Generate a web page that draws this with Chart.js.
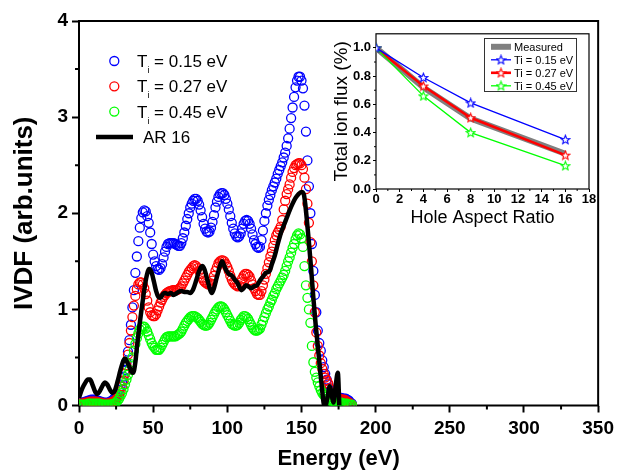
<!DOCTYPE html>
<html>
<head>
<meta charset="utf-8">
<script src="https://cdn.jsdelivr.net/npm/chart.js@4.4.1/dist/chart.umd.min.js"></script>
<style>
  html, body { margin: 0; padding: 0; background: #fff; }
  #wrap { position: relative; width: 619px; height: 472px; }
  #main { position: absolute; left: 0; top: 0; }
  #inset { position: absolute; left: 318px; top: 24px; }
</style>
</head>
<body>
<div id="wrap">
  <canvas id="main" width="619" height="472"></canvas>
  <canvas id="inset" width="280" height="210"></canvas>
</div>
<script>
// ---- data: main IVDF plot ----

var energy = [
  0, 1, 2, 3, 4, 5, 6, 7, 8, 9,
  10, 11, 12, 13, 14, 15, 16, 17, 18, 19,
  20, 21, 22, 23, 24, 25, 26, 27, 28, 29,
  30, 31, 32, 33, 34, 35, 36, 37, 38, 39,
  40, 41, 42, 43, 44, 45, 46, 47, 48, 49,
  50, 51, 52, 53, 54, 55, 56, 57, 58, 59,
  60, 61, 62, 63, 64, 65, 66, 67, 68, 69,
  70, 71, 72, 73, 74, 75, 76, 77, 78, 79,
  80, 81, 82, 83, 84, 85, 86, 87, 88, 89,
  90, 91, 92, 93, 94, 95, 96, 97, 98, 99,
  100, 101, 102, 103, 104, 105, 106, 107, 108, 109,
  110, 111, 112, 113, 114, 115, 116, 117, 118, 119,
  120, 121, 122, 123, 124, 125, 126, 127, 128, 129,
  130, 131, 132, 133, 134, 135, 136, 137, 138, 139,
  140, 141, 142, 143, 144, 145, 146, 147, 148, 149,
  150, 151, 152, 153, 154, 155, 156, 157, 158, 159,
  160, 161, 162, 163, 164, 165, 166, 167, 168, 169,
  170, 171, 172, 173, 174, 175, 176, 177, 178, 179,
  180, 181, 182, 183, 184
];

var ti015 = [
  0.03, 0.03, 0.03, 0.03, 0.04, 0.04, 0.05, 0.05, 0.06, 0.06,
  0.06, 0.06, 0.05, 0.05, 0.04, 0.04, 0.03, 0.03, 0.03, 0.03,
  0.03, 0.04, 0.05, 0.06, 0.08, 0.10, 0.12, 0.16, 0.20, 0.25,
  0.30, 0.37, 0.45, 0.56, 0.68, 0.84, 1.02, 1.20, 1.38, 1.55,
  1.71, 1.85, 1.95, 2.01, 2.03, 2.02, 1.97, 1.90, 1.80, 1.68,
  1.57, 1.50, 1.45, 1.42, 1.41, 1.43, 1.47, 1.54, 1.60, 1.65,
  1.68, 1.69, 1.69, 1.69, 1.69, 1.68, 1.67, 1.66, 1.66, 1.69,
  1.74, 1.80, 1.87, 1.94, 2.00, 2.06, 2.10, 2.13, 2.15, 2.15,
  2.13, 2.09, 2.03, 1.96, 1.89, 1.84, 1.81, 1.80, 1.81, 1.85,
  1.91, 1.98, 2.06, 2.12, 2.17, 2.20, 2.21, 2.21, 2.19, 2.15,
  2.10, 2.04, 1.97, 1.90, 1.84, 1.79, 1.76, 1.75, 1.76, 1.79,
  1.84, 1.89, 1.92, 1.93, 1.92, 1.89, 1.84, 1.78, 1.72, 1.68,
  1.65, 1.64, 1.65, 1.72, 1.82, 1.92, 2.00, 2.08, 2.14, 2.19,
  2.24, 2.28, 2.32, 2.36, 2.41, 2.45, 2.49, 2.53, 2.58, 2.63,
  2.70, 2.78, 2.88, 2.99, 3.10, 3.21, 3.31, 3.38, 3.42, 3.42,
  3.38, 3.30, 3.12, 2.85, 2.55, 2.28, 2.00, 1.68, 1.40, 1.15,
  0.97, 0.78, 0.65, 0.57, 0.47, 0.40, 0.33, 0.27, 0.22, 0.18,
  0.15, 0.13, 0.11, 0.10, 0.09, 0.08, 0.08, 0.08, 0.07, 0.07,
  0.07, 0.06, 0.05, 0.03, 0.02
];

var ti027 = [
  0.02, 0.02, 0.02, 0.02, 0.03, 0.03, 0.03, 0.04, 0.04, 0.04,
  0.04, 0.04, 0.04, 0.03, 0.03, 0.03, 0.02, 0.02, 0.02, 0.02,
  0.02, 0.03, 0.03, 0.04, 0.05, 0.06, 0.08, 0.11, 0.15, 0.20,
  0.26, 0.33, 0.42, 0.53, 0.65, 0.78, 0.92, 1.04, 1.14, 1.21,
  1.26, 1.28, 1.28, 1.26, 1.22, 1.16, 1.09, 1.02, 0.97, 0.94,
  0.93, 0.93, 0.95, 0.99, 1.03, 1.07, 1.10, 1.13, 1.15, 1.17,
  1.18, 1.19, 1.19, 1.20, 1.20, 1.20, 1.20, 1.21, 1.22, 1.24,
  1.27, 1.30, 1.33, 1.36, 1.39, 1.41, 1.43, 1.45, 1.46, 1.45,
  1.43, 1.40, 1.37, 1.33, 1.30, 1.28, 1.27, 1.26, 1.26, 1.27,
  1.30, 1.35, 1.40, 1.44, 1.48, 1.50, 1.51, 1.51, 1.50, 1.47,
  1.44, 1.40, 1.35, 1.31, 1.28, 1.26, 1.25, 1.24, 1.25, 1.28,
  1.32, 1.35, 1.37, 1.37, 1.36, 1.34, 1.30, 1.26, 1.22, 1.19,
  1.16, 1.15, 1.15, 1.19, 1.25, 1.31, 1.37, 1.43, 1.49, 1.55,
  1.60, 1.66, 1.72, 1.77, 1.80, 1.83, 1.86, 1.93, 2.04, 2.13,
  2.20, 2.25, 2.30, 2.37, 2.43, 2.47, 2.50, 2.51, 2.52, 2.52,
  2.50, 2.46, 2.37, 2.25, 2.10, 1.90, 1.70, 1.50, 1.25, 0.97,
  0.76, 0.62, 0.52, 0.44, 0.38, 0.33, 0.29, 0.26, 0.23, 0.18,
  0.14, 0.12, 0.10, 0.09, 0.08, 0.07, 0.07, 0.06, 0.06, 0.06,
  0.05, 0.04, 0.03, 0.02, 0.01
];

var ti045 = [
  0.01, 0.01, 0.01, 0.01, 0.01, 0.01, 0.02, 0.02, 0.02, 0.02,
  0.02, 0.02, 0.02, 0.02, 0.02, 0.01, 0.01, 0.01, 0.01, 0.01,
  0.01, 0.01, 0.01, 0.02, 0.02, 0.03, 0.05, 0.07, 0.10, 0.13,
  0.17, 0.22, 0.27, 0.32, 0.37, 0.43, 0.50, 0.57, 0.64, 0.70,
  0.75, 0.79, 0.81, 0.82, 0.82, 0.80, 0.77, 0.73, 0.69, 0.65,
  0.62, 0.60, 0.58, 0.58, 0.58, 0.60, 0.63, 0.66, 0.69, 0.71,
  0.72, 0.72, 0.72, 0.72, 0.72, 0.72, 0.73, 0.74, 0.75, 0.77,
  0.80, 0.83, 0.86, 0.88, 0.90, 0.92, 0.93, 0.93, 0.93, 0.92,
  0.91, 0.89, 0.87, 0.85, 0.84, 0.83, 0.83, 0.84, 0.86, 0.89,
  0.92, 0.95, 0.98, 1.00, 1.02, 1.03, 1.03, 1.02, 1.00, 0.97,
  0.94, 0.91, 0.88, 0.85, 0.84, 0.83, 0.83, 0.84, 0.86, 0.89,
  0.91, 0.93, 0.93, 0.92, 0.90, 0.87, 0.84, 0.81, 0.79, 0.78,
  0.78, 0.79, 0.80, 0.84, 0.88, 0.92, 0.96, 1.00, 1.03, 1.07,
  1.10, 1.14, 1.17, 1.21, 1.24, 1.27, 1.30, 1.33, 1.36, 1.40,
  1.45, 1.50, 1.54, 1.59, 1.64, 1.68, 1.73, 1.77, 1.79, 1.78,
  1.74, 1.65, 1.45, 1.25, 1.12, 1.00, 0.86, 0.62, 0.45, 0.35,
  0.29, 0.24, 0.20, 0.16, 0.13, 0.11, 0.09, 0.07, 0.06, 0.05,
  0.05, 0.04, 0.04, 0.03, 0.03, 0.03, 0.03, 0.03, 0.02, 0.02,
  0.02, 0.02, 0.01, 0.01, 0.01
];

// AR 16 measured curve (black line)
var ar16Energy = [
  0, 2, 4, 6, 7.5, 9, 11, 12.5, 14, 16, 17.5, 19, 21, 22.5, 24, 26, 28, 30, 31, 32.5,
  34, 35.5, 36.5, 38, 39, 40.5, 42, 43.5, 45, 46.5, 47.5, 49, 50.5, 52, 53.5, 55, 56.5, 58, 60, 62,
  63.5, 65, 67, 69, 71, 73, 75, 77, 79, 81, 83, 84.5, 86.5, 88.5, 89.5, 91, 93, 95, 96.5, 98,
  99.5, 101, 103, 105, 107, 109.5, 111, 112.5, 114, 116, 118, 120, 122, 124, 126, 128.5, 130, 132, 134, 136,
  138, 140, 142, 144, 146, 148, 150, 151.5, 152.5, 153.5, 155, 156.5, 158, 159.5, 161, 162.5, 164, 165, 166, 167.5,
  169, 170.5, 171.5, 173, 174.5, 175.5
];
var ar16 = [
  0.08, 0.17, 0.23, 0.27, 0.27, 0.22, 0.14, 0.12, 0.15, 0.21, 0.24, 0.22, 0.16, 0.13, 0.15, 0.25, 0.37, 0.47, 0.49, 0.45,
  0.40, 0.35, 0.34, 0.45, 0.60, 0.80, 0.98, 1.15, 1.30, 1.40, 1.42, 1.38, 1.29, 1.19, 1.13, 1.12, 1.16, 1.17, 1.16, 1.17,
  1.15, 1.16, 1.18, 1.19, 1.18, 1.18, 1.17, 1.21, 1.30, 1.40, 1.45, 1.42, 1.31, 1.20, 1.17, 1.22, 1.34, 1.45, 1.50, 1.45,
  1.40, 1.37, 1.35, 1.31, 1.27, 1.20, 1.22, 1.25, 1.24, 1.22, 1.24, 1.25, 1.30, 1.34, 1.38, 1.40, 1.47, 1.56, 1.68, 1.79,
  1.87, 1.95, 2.03, 2.10, 2.16, 2.20, 2.22, 2.20, 2.10, 1.95, 1.70, 1.42, 1.12, 0.85, 0.62, 0.38, 0.15, 0.02, 0.00, 0.08,
  0.20, 0.10, 0.03, 0.20, 0.34, 0.00
];

var energyTicks = [0, 50, 100, 150, 200, 250, 300, 350];
var energyMinor = [25, 75, 125, 175, 225, 275, 325];
var ivdfTicks = [0, 1, 2, 3, 4];
var ivdfMinor = [0.5, 1.5, 2.5, 3.5];

// ---- data: inset ----

var aspectRatio = [0, 4, 8, 16];
var fluxMeasured = [1.0, 0.72, 0.50, 0.25];
var flux015 = [1.0, 0.79, 0.61, 0.35];
var flux027 = [1.0, 0.73, 0.505, 0.24];
var flux045 = [1.0, 0.66, 0.40, 0.165];

var arTicks = [0, 2, 4, 6, 8, 10, 12, 14, 16, 18];
var arMinor = [1, 3, 5, 7, 9, 11, 13, 15, 17];
var fluxTicks = [0, 0.2, 0.4, 0.6, 0.8, 1.0];
var fluxMinor = [0.1, 0.3, 0.5, 0.7, 0.9];

var FONT = "'Liberation Sans', Arial, sans-serif";

function pts(xs, ys) {
    return xs.map(function (x, i) { return { x: x, y: ys[i] }; });
}

function fixedTicks(list) {
    return function (axis) {
        axis.ticks = list.map(function (v) { return { value: v }; });
    };
}

function starImage(color) {
    var c = document.createElement('canvas');
    c.width = 11; c.height = 11;
    var g = c.getContext('2d');
    g.beginPath();
    for (var k = 0; k < 10; k++) {
        var r = k % 2 ? 2.0 : 4.6;
        var a = -Math.PI / 2 + k * Math.PI / 5;
        var px = 5.5 + r * Math.cos(a), py = 5.9 + r * Math.sin(a);
        if (k) g.lineTo(px, py); else g.moveTo(px, py);
    }
    g.closePath();
    g.fillStyle = '#fff';
    g.fill();
    g.strokeStyle = color;
    g.lineWidth = 1.1;
    g.stroke();
    return c;
}

// frame box + minor ticks
var frameBox = {
    id: 'frameBox',
    beforeDatasetsDraw: function (chart, args, o) {
        var ctx = chart.ctx, a = chart.chartArea;
        ctx.save();
        ctx.strokeStyle = '#000';
        ctx.lineWidth = o.width;
        ctx.strokeRect(a.left, a.top, a.right - a.left, a.bottom - a.top);
        ctx.lineWidth = o.tickWidth;
        ctx.beginPath();
        o.xMinor.forEach(function (v) {
            var px = chart.scales.x.getPixelForValue(v);
            ctx.moveTo(px, a.bottom);
            ctx.lineTo(px, a.bottom + o.minorLen);
        });
        o.yMinor.forEach(function (v) {
            var py = chart.scales.y.getPixelForValue(v);
            ctx.moveTo(a.left, py);
            ctx.lineTo(a.left - o.minorLen, py);
        });
        ctx.stroke();
        ctx.restore();
    }
};

// legend drawn inside the plot (subscript support)
var innerLegend = {
    id: 'innerLegend',
    afterDatasetsDraw: function (chart, args, o) {
        var ctx = chart.ctx;
        ctx.save();
        if (o.box) {
            ctx.strokeStyle = '#333';
            ctx.lineWidth = 1;
            ctx.strokeRect(o.box[0], o.box[1], o.box[2], o.box[3]);
        }
        ctx.textBaseline = 'alphabetic';
        ctx.fillStyle = '#000';
        chart.data.datasets.forEach(function (ds) {
            var y = o.top + ds.legendRow * o.rowGap;
            if (ds.showLine) {
                ctx.strokeStyle = ds.borderColor;
                ctx.lineWidth = ds.borderWidth;
                ctx.beginPath();
                ctx.moveTo(o.lineX0, y);
                ctx.lineTo(o.lineX1, y);
                ctx.stroke();
            }
            if (ds.pointStyle instanceof HTMLCanvasElement) {
                var img = ds.pointStyle;
                ctx.drawImage(img, (o.lineX0 + o.lineX1) / 2 - img.width / 2, y - img.height / 2);
            } else if (!ds.showLine) {
                ctx.strokeStyle = ds.borderColor;
                ctx.lineWidth = ds.pointBorderWidth;
                ctx.beginPath();
                ctx.arc(o.markX, y, ds.pointRadius, 0, Math.PI * 2);
                ctx.stroke();
            }
            var x = ds.showLine && o.textX2 ? o.textX2 : o.textX;
            var parts = ds.legendParts || [ds.label];
            ctx.font = o.size + 'px ' + FONT;
            ctx.fillText(parts[0], x, y + o.baseline);
            if (parts.length > 1) {
                x += ctx.measureText(parts[0]).width;
                ctx.font = o.subSize + 'px ' + FONT;
                ctx.fillText(parts[1], x, y + o.baseline + o.subDrop);
                x += ctx.measureText(parts[1]).width;
                ctx.font = o.size + 'px ' + FONT;
                ctx.fillText(parts[2], x, y + o.baseline);
            }
        });
        ctx.restore();
    }
};

function circleSet(label, parts, ys, color, row) {
    return {
        label: label,
        legendParts: parts,
        legendRow: row,
        data: pts(energy, ys),
        showLine: false,
        pointStyle: 'circle',
        pointRadius: 4.5,
        pointBorderWidth: 1.3,
        borderColor: color,
        pointBorderColor: color,
        pointBackgroundColor: 'rgba(0,0,0,0)',
        backgroundColor: 'rgba(0,0,0,0)'
    };
}

new Chart(document.getElementById('main'), {
    type: 'scatter',
    data: {
        datasets: [
            {
                label: 'AR 16',
                legendRow: 3,
                data: pts(ar16Energy, ar16),
                showLine: true,
                borderColor: '#000',
                borderWidth: 4.5,
                pointRadius: 0,
                cubicInterpolationMode: 'monotone',
                borderJoinStyle: 'round'
            },
            circleSet('Ti = 0.45 eV', ['T', 'i', ' = 0.45 eV'], ti045, '#00ff00', 2),
            circleSet('Ti = 0.27 eV', ['T', 'i', ' = 0.27 eV'], ti027, '#ff0000', 1),
            circleSet('Ti = 0.15 eV', ['T', 'i', ' = 0.15 eV'], ti015, '#0000ff', 0)
        ]
    },
    options: {
        responsive: false,
        animation: false,
        layout: { padding: { left: 0, top: 21, right: 17, bottom: 0 } },
        plugins: {
            legend: { display: false },
            tooltip: { enabled: false },
            frameBox: { width: 2, tickWidth: 2, minorLen: 4, xMinor: energyMinor, yMinor: ivdfMinor },
            innerLegend: {
                top: 61, rowGap: 25.3, markX: 114.3, lineX0: 96, lineX1: 133,
                textX: 137, textX2: 143, size: 17, subSize: 9, baseline: 6, subDrop: 6
            }
        },
        scales: {
            x: {
                type: 'linear', min: 0, max: 350,
                afterBuildTicks: fixedTicks(energyTicks),
                afterFit: function (s) { s.height = 66.5; },
                border: { display: false },
                grid: { drawOnChartArea: false, tickLength: 7, tickWidth: 2, tickColor: '#000' },
                ticks: { color: '#000', padding: 5, maxRotation: 0, autoSkip: false,
                    font: { family: FONT, size: 19, weight: 'bold' } },
                title: { display: true, text: 'Energy (eV)', color: '#000',
                    font: { family: FONT, size: 22, weight: 'bold' }, padding: { top: 0, bottom: 0 } }
            },
            y: {
                type: 'linear', min: 0, max: 4,
                afterBuildTicks: fixedTicks(ivdfTicks),
                afterFit: function (s) { s.width = 79; },
                border: { display: false },
                grid: { drawOnChartArea: false, tickLength: 7, tickWidth: 2, tickColor: '#000' },
                ticks: { color: '#000', padding: 4, autoSkip: false,
                    font: { family: FONT, size: 19, weight: 'bold' } },
                title: { display: true, text: 'IVDF (arb.units)', color: '#000',
                    font: { family: FONT, size: 26, weight: 'bold' }, padding: { top: 9, bottom: 0 } }
            }
        }
    },
    plugins: [frameBox, innerLegend]
});

// ---- inset ----
var INX = 318, INY = 24;

new Chart(document.getElementById('inset'), {
    type: 'scatter',
    data: {
        datasets: [
            {
                label: 'Ti = 0.15 eV', legendRow: 1,
                data: pts(aspectRatio, flux015), showLine: true,
                borderColor: '#0000ff', borderWidth: 1.3,
                pointStyle: starImage('#0000ff'), pointRadius: 5
            },
            {
                label: 'Ti = 0.45 eV', legendRow: 3,
                data: pts(aspectRatio, flux045), showLine: true,
                borderColor: '#00ff00', borderWidth: 1.3,
                pointStyle: starImage('#00ff00'), pointRadius: 5
            },
            {
                label: 'Ti = 0.27 eV', legendRow: 2,
                data: pts(aspectRatio, flux027), showLine: true,
                borderColor: '#ff0000', borderWidth: 2.6,
                pointStyle: starImage('#ff0000'), pointRadius: 5
            },
            {
                label: 'Measured', legendRow: 0,
                data: pts(aspectRatio, fluxMeasured), showLine: true,
                borderColor: '#808080', borderWidth: 6, pointRadius: 0
            }
        ]
    },
    options: {
        responsive: false,
        animation: false,
        layout: { padding: { left: 0, top: 9, right: 9, bottom: 0 } },
        plugins: {
            legend: { display: false },
            tooltip: { enabled: false },
            frameBox: { width: 1.2, tickWidth: 1, minorLen: 2, xMinor: arMinor, yMinor: fluxMinor },
            innerLegend: {
                box: [484.5 - INX, 38.5 - INY, 92, 53],
                top: 46.8 - INY, rowGap: 13, markX: 0, lineX0: 491 - INX, lineX1: 511 - INX,
                textX: 514 - INX, size: 11, baseline: 4
            }
        },
        scales: {
            x: {
                type: 'linear', min: 0, max: 18,
                afterBuildTicks: fixedTicks(arTicks),
                afterFit: function (s) { s.height = 45; },
                border: { display: false },
                grid: { drawOnChartArea: false, tickLength: 3, tickWidth: 1, tickColor: '#000' },
                ticks: { color: '#000', padding: 0, maxRotation: 0, autoSkip: false,
                    font: { family: FONT, size: 13, weight: 'bold' } },
                title: { display: true, text: 'Hole Aspect Ratio', color: '#000',
                    font: { family: FONT, size: 18 }, padding: { top: 0, bottom: 5 } }
            },
            y: {
                type: 'linear', min: 0, max: 1.1,
                afterBuildTicks: fixedTicks(fluxTicks),
                afterFit: function (s) { s.width = 58; },
                border: { display: false },
                grid: { drawOnChartArea: false, tickLength: 3, tickWidth: 1, tickColor: '#000' },
                ticks: { color: '#000', padding: 2, autoSkip: false,
                    callback: function (v) { return v.toFixed(1); },
                    font: { family: FONT, size: 13, weight: 'bold' } },
                title: { display: true, text: 'Total ion flux (%)', color: '#000',
                    font: { family: FONT, size: 19 }, padding: { top: 12, bottom: 0 } }
            }
        }
    },
    plugins: [frameBox, innerLegend]
});
</script>
</body>
</html>
